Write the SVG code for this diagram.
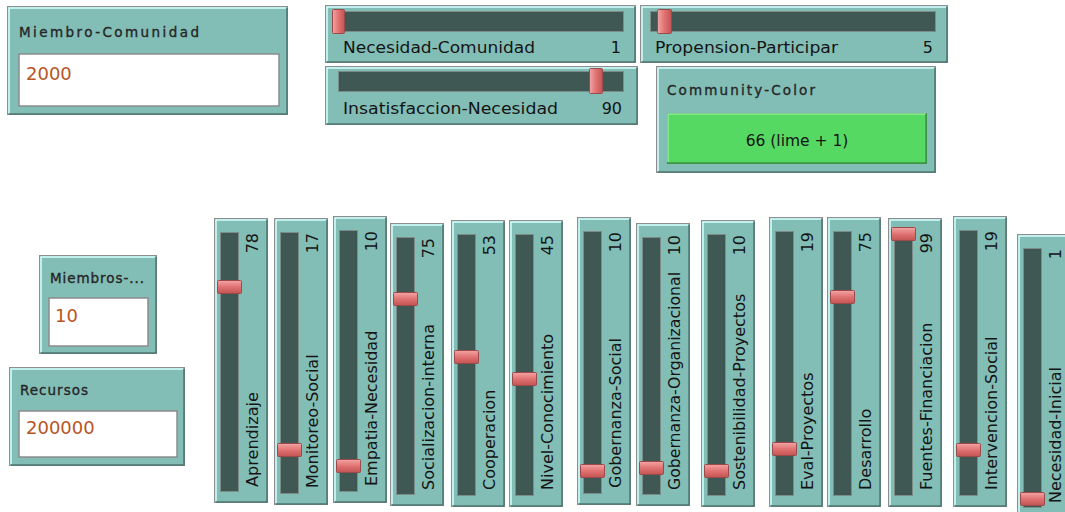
<svg xmlns="http://www.w3.org/2000/svg" width="1065" height="512" viewBox="0 0 1065 512">
<defs>
<linearGradient id="thumbV" x1="0" y1="0" x2="0" y2="1">
<stop offset="0" stop-color="#f4a4a4"/><stop offset="0.5" stop-color="#e07272"/><stop offset="1" stop-color="#c45454"/>
</linearGradient>
<linearGradient id="thumbH" x1="0" y1="0" x2="1" y2="0">
<stop offset="0" stop-color="#f4a4a4"/><stop offset="0.5" stop-color="#e07272"/><stop offset="1" stop-color="#c45454"/>
</linearGradient>
</defs>
<style>
.frame{fill:#82bdb6;stroke:#8e8e8e;stroke-width:1}
.hl{fill:none;stroke:#d6ffff;stroke-width:1.5}
.sh{fill:none;stroke:#4c7772;stroke-width:1.5}
.track{fill:#3f5853;stroke:#7c8c88;stroke-width:1}
.thv{fill:url(#thumbV);stroke:#9a4a4a;stroke-width:1}
.thh{fill:url(#thumbH);stroke:#9a4a4a;stroke-width:1}
.lbl{font-family:"DejaVu Sans",sans-serif;font-size:16px;fill:#141414}
.val{font-family:"DejaVu Sans",sans-serif;font-size:16px;fill:#141414;text-anchor:end}
.ilbl{font-family:"DejaVu Sans",sans-serif;font-size:13.5px;fill:#262626;stroke:#262626;stroke-width:0.35}
.ibox{fill:#ffffff;stroke:#8c8c8c;stroke-width:1.5}
.ival{font-family:"DejaVu Sans",sans-serif;font-size:18px;fill:#b8551f}
.btn{fill:#56d962;stroke:#5a7a5a;stroke-width:1}
.btxt{font-family:"DejaVu Sans",sans-serif;font-size:15.5px;fill:#141414;text-anchor:middle}
</style>

<!-- Input: Miembro-Comunidad -->
<g id="miembro-comunidad">
<rect class="frame" x="7.5" y="6.5" width="280" height="108"/>
<polyline class="hl" points="9,113 9,8 286,8"/>
<polyline class="sh" points="287,8 287,114 9,114"/>
<text class="ilbl" x="19" y="37" textLength="180" lengthAdjust="spacing">Miembro-Comunidad</text>
<rect class="ibox" x="19" y="54" width="260" height="52"/>
<text class="ival" x="26" y="80">2000</text>
</g>

<!-- Slider: Necesidad-Comunidad -->
<g id="necesidad-comunidad">
<rect class="frame" x="325.5" y="5.5" width="310" height="57"/>
<polyline class="hl" points="327,61 327,7 634,7"/>
<polyline class="sh" points="635,7 635,62 327,62"/>
<rect class="track" x="333.5" y="11.5" width="290" height="20"/>
<rect class="thh" x="332.5" y="9.5" width="12" height="24" rx="1"/>
<text class="lbl" x="343" y="53" textLength="192" lengthAdjust="spacingAndGlyphs">Necesidad-Comunidad</text>
<text class="val" x="621" y="53">1</text>
</g>

<!-- Slider: Insatisfaccion-Necesidad -->
<g id="insatisfaccion-necesidad">
<rect class="frame" x="325.5" y="66.5" width="312" height="58"/>
<polyline class="hl" points="327,123 327,68 636,68"/>
<polyline class="sh" points="637,68 637,124 327,124"/>
<rect class="track" x="338.5" y="71.5" width="285" height="20"/>
<rect class="thh" x="589.5" y="68.5" width="13" height="25" rx="1"/>
<text class="lbl" x="343" y="114" textLength="215" lengthAdjust="spacingAndGlyphs">Insatisfaccion-Necesidad</text>
<text class="val" x="622" y="114">90</text>
</g>

<!-- Slider: Propension-Participar -->
<g id="propension-participar">
<rect class="frame" x="640.5" y="5.5" width="307" height="57"/>
<polyline class="hl" points="642,61 642,7 946,7"/>
<polyline class="sh" points="947,7 947,62 642,62"/>
<rect class="track" x="650.5" y="11.5" width="285" height="20"/>
<rect class="thh" x="657.5" y="9.5" width="14" height="24" rx="1"/>
<text class="lbl" x="655" y="53" textLength="183" lengthAdjust="spacingAndGlyphs">Propension-Participar</text>
<text class="val" x="933" y="53">5</text>
</g>

<!-- Chooser: Community-Color -->
<g id="community-color">
<rect class="frame" x="656.5" y="66.5" width="279" height="106"/>
<polyline class="hl" points="658,171 658,68 934,68"/>
<polyline class="sh" points="935,68 935,172 658,172"/>
<text class="ilbl" x="667" y="95" textLength="148" lengthAdjust="spacing">Community-Color</text>
<rect class="btn" x="667.5" y="113.5" width="259" height="50"/>
<polyline points="668,162 668,114 926,114" fill="none" stroke="#8ef095" stroke-width="1.5"/>
<polyline points="926,114 926,163 668,163" fill="none" stroke="#3a9a44" stroke-width="1.5"/>
<text class="btxt" x="797" y="146">66 (lime + 1)</text>
</g>

<!-- Input: Miembros-... -->
<g id="miembros">
<rect class="frame" x="39.5" y="255.5" width="117" height="98"/>
<polyline class="hl" points="41,352 41,257 155,257"/>
<polyline class="sh" points="156,257 156,353 41,353"/>
<text class="ilbl" x="50" y="283" textLength="94" lengthAdjust="spacing">Miembros-...</text>
<rect class="ibox" x="49" y="298" width="99" height="48"/>
<text class="ival" x="55" y="322">10</text>
</g>

<!-- Input: Recursos -->
<g id="recursos">
<rect class="frame" x="9.5" y="367.5" width="175" height="98"/>
<polyline class="hl" points="11,464 11,369 183,369"/>
<polyline class="sh" points="184,369 184,465 11,465"/>
<text class="ilbl" x="20" y="395" textLength="68" lengthAdjust="spacing">Recursos</text>
<rect class="ibox" x="19" y="411" width="158" height="46"/>
<text class="ival" x="26" y="434">200000</text>
</g>

<!-- Vertical sliders -->
<g id="aprendizaje" transform="translate(214,218)">
<rect class="frame" x="0.5" y="0.5" width="53" height="284"/>
<polyline class="hl" points="2,283 2,2 52,2"/><polyline class="sh" points="53,2 53,284 2,284"/>
<rect class="track" x="6.5" y="14.5" width="18" height="259"/>
<rect class="thv" x="3.5" y="62.5" width="24" height="13" rx="1"/>
<text class="lbl" transform="rotate(-90)" x="-269" y="44" textLength="95" lengthAdjust="spacingAndGlyphs">Aprendizaje</text>
<text class="val" transform="rotate(-90)" x="-15" y="44">78</text>
</g>

<g id="monitoreo-social" transform="translate(274,218)">
<rect class="frame" x="0.5" y="0.5" width="53" height="286"/>
<polyline class="hl" points="2,285 2,2 52,2"/><polyline class="sh" points="53,2 53,286 2,286"/>
<rect class="track" x="6.5" y="14.5" width="18" height="261"/>
<rect class="thv" x="3.5" y="225.5" width="24" height="13" rx="1"/>
<text class="lbl" transform="rotate(-90)" x="-270" y="44">Monitoreo-Social</text>
<text class="val" transform="rotate(-90)" x="-15" y="44">17</text>
</g>

<g id="empatia-necesidad" transform="translate(333,216)">
<rect class="frame" x="0.5" y="0.5" width="53" height="286"/>
<polyline class="hl" points="2,285 2,2 52,2"/><polyline class="sh" points="53,2 53,286 2,286"/>
<rect class="track" x="6.5" y="14.5" width="18" height="261"/>
<rect class="thv" x="3.5" y="243.5" width="24" height="13" rx="1"/>
<text class="lbl" transform="rotate(-90)" x="-270" y="44">Empatia-Necesidad</text>
<text class="val" transform="rotate(-90)" x="-15" y="44">10</text>
</g>

<g id="socializacion-interna" transform="translate(390,223)">
<rect class="frame" x="0.5" y="0.5" width="53" height="282"/>
<polyline class="hl" points="2,281 2,2 52,2"/><polyline class="sh" points="53,2 53,282 2,282"/>
<rect class="track" x="6.5" y="14.5" width="18" height="257"/>
<rect class="thv" x="3.5" y="69.5" width="24" height="13" rx="1"/>
<text class="lbl" transform="rotate(-90)" x="-267" y="44">Socializacion-interna</text>
<text class="val" transform="rotate(-90)" x="-15" y="44">75</text>
</g>

<g id="cooperacion" transform="translate(451,220)">
<rect class="frame" x="0.5" y="0.5" width="53" height="286"/>
<polyline class="hl" points="2,285 2,2 52,2"/><polyline class="sh" points="53,2 53,286 2,286"/>
<rect class="track" x="6.5" y="14.5" width="18" height="261"/>
<rect class="thv" x="3.5" y="130.5" width="24" height="13" rx="1"/>
<text class="lbl" transform="rotate(-90)" x="-270" y="44">Cooperacion</text>
<text class="val" transform="rotate(-90)" x="-15" y="44">53</text>
</g>

<g id="nivel-conocimiento" transform="translate(509,220)">
<rect class="frame" x="0.5" y="0.5" width="53" height="286"/>
<polyline class="hl" points="2,285 2,2 52,2"/><polyline class="sh" points="53,2 53,286 2,286"/>
<rect class="track" x="6.5" y="14.5" width="18" height="261"/>
<rect class="thv" x="3.5" y="152.5" width="24" height="13" rx="1"/>
<text class="lbl" transform="rotate(-90)" x="-270" y="44">Nivel-Conocimiento</text>
<text class="val" transform="rotate(-90)" x="-15" y="44">45</text>
</g>

<g id="gobernanza-social" transform="translate(577,217)">
<rect class="frame" x="0.5" y="0.5" width="53" height="287"/>
<polyline class="hl" points="2,286 2,2 52,2"/><polyline class="sh" points="53,2 53,287 2,287"/>
<rect class="track" x="6.5" y="14.5" width="18" height="262"/>
<rect class="thv" x="3.5" y="247.5" width="24" height="13" rx="1"/>
<text class="lbl" transform="rotate(-90)" x="-271" y="44">Gobernanza-Social</text>
<text class="val" transform="rotate(-90)" x="-15" y="44">10</text>
</g>

<g id="gobernanza-organizacional" transform="translate(636,223)">
<rect class="frame" x="0.5" y="0.5" width="53" height="282"/>
<polyline class="hl" points="2,281 2,2 52,2"/><polyline class="sh" points="53,2 53,282 2,282"/>
<rect class="track" x="6.5" y="14.5" width="18" height="257"/>
<rect class="thv" x="3.5" y="238.5" width="24" height="13" rx="1"/>
<text class="lbl" transform="rotate(-90)" x="-267" y="44" textLength="218" lengthAdjust="spacingAndGlyphs">Gobernanza-Organizacional</text>
<text class="val" transform="rotate(-90)" x="-12" y="44">10</text>
</g>

<g id="sostenibilidad-proyectos" transform="translate(701,220)">
<rect class="frame" x="0.5" y="0.5" width="53" height="286"/>
<polyline class="hl" points="2,285 2,2 52,2"/><polyline class="sh" points="53,2 53,286 2,286"/>
<rect class="track" x="6.5" y="14.5" width="18" height="261"/>
<rect class="thv" x="3.5" y="244.5" width="24" height="13" rx="1"/>
<text class="lbl" transform="rotate(-90)" x="-270" y="44">Sostenibilidad-Proyectos</text>
<text class="val" transform="rotate(-90)" x="-15" y="44">10</text>
</g>

<g id="eval-proyectos" transform="translate(769,217)">
<rect class="frame" x="0.5" y="0.5" width="53" height="289"/>
<polyline class="hl" points="2,288 2,2 52,2"/><polyline class="sh" points="53,2 53,289 2,289"/>
<rect class="track" x="6.5" y="14.5" width="18" height="264"/>
<rect class="thv" x="3.5" y="225.5" width="24" height="13" rx="1"/>
<text class="lbl" transform="rotate(-90)" x="-273" y="44">Eval-Proyectos</text>
<text class="val" transform="rotate(-90)" x="-15" y="44">19</text>
</g>

<g id="desarrollo" transform="translate(827,217)">
<rect class="frame" x="0.5" y="0.5" width="53" height="289"/>
<polyline class="hl" points="2,288 2,2 52,2"/><polyline class="sh" points="53,2 53,289 2,289"/>
<rect class="track" x="6.5" y="14.5" width="18" height="264"/>
<rect class="thv" x="3.5" y="73.5" width="24" height="13" rx="1"/>
<text class="lbl" transform="rotate(-90)" x="-273" y="44">Desarrollo</text>
<text class="val" transform="rotate(-90)" x="-15" y="44">75</text>
</g>

<g id="fuentes-financiacion" transform="translate(888,218)">
<rect class="frame" x="0.5" y="0.5" width="53" height="288"/>
<polyline class="hl" points="2,287 2,2 52,2"/><polyline class="sh" points="53,2 53,288 2,288"/>
<rect class="track" x="6.5" y="14.5" width="18" height="263"/>
<rect class="thv" x="3.5" y="9.5" width="24" height="13" rx="1"/>
<text class="lbl" transform="rotate(-90)" x="-272" y="44">Fuentes-Financiacion</text>
<text class="val" transform="rotate(-90)" x="-15" y="44">99</text>
</g>

<g id="intervencion-social" transform="translate(953,216)">
<rect class="frame" x="0.5" y="0.5" width="53" height="290"/>
<polyline class="hl" points="2,289 2,2 52,2"/><polyline class="sh" points="53,2 53,290 2,290"/>
<rect class="track" x="6.5" y="14.5" width="18" height="265"/>
<rect class="thv" x="3.5" y="227.5" width="24" height="13" rx="1"/>
<text class="lbl" transform="rotate(-90)" x="-274" y="44">Intervencion-Social</text>
<text class="val" transform="rotate(-90)" x="-15" y="44">19</text>
</g>

<g id="necesidad-inicial" transform="translate(1017,234)">
<rect class="frame" x="0.5" y="0.5" width="53" height="284"/>
<polyline class="hl" points="2,283 2,2 52,2"/><polyline class="sh" points="53,2 53,284 2,284"/>
<rect class="track" x="6.5" y="14.5" width="18" height="259"/>
<rect class="thv" x="3.5" y="258.5" width="24" height="13" rx="1"/>
<text class="lbl" transform="rotate(-90)" x="-269" y="44">Necesidad-Inicial</text>
<text class="val" transform="rotate(-90)" x="-15" y="44">1</text>
</g>

<g id="connectors"></g>
</svg>
